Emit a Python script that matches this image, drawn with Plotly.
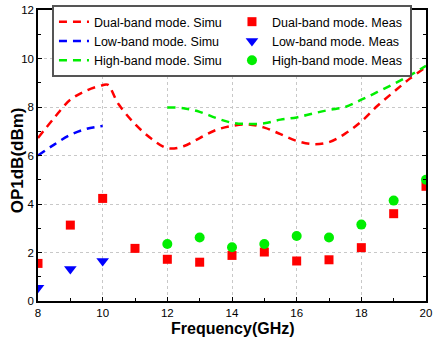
import plotly.graph_objects as go

# Simulated curves
dual_sim_x = [8, 8.5, 9, 9.5, 10, 10.15, 10.5, 11, 11.5, 12, 12.5, 13, 13.5, 14, 14.5, 15, 15.5, 16, 16.5, 17, 17.5, 18, 18.5, 19, 19.5, 20]
dual_sim_y = [6.72, 7.55, 8.3, 8.68, 8.9, 8.92, 8.1, 7.3, 6.7, 6.3, 6.38, 6.72, 7.05, 7.22, 7.28, 7.15, 6.88, 6.6, 6.47, 6.55, 6.9, 7.4, 8.05, 8.62, 9.17, 9.65]

low_sim_x = [8, 8.5, 9, 9.5, 10]
low_sim_y = [6.0, 6.45, 6.85, 7.1, 7.22]

high_sim_x = [12, 12.5, 13, 13.5, 14, 14.5, 15, 15.5, 16, 16.5, 17, 17.5, 18, 18.5, 19, 19.5, 20]
high_sim_y = [7.98, 7.95, 7.8, 7.55, 7.35, 7.3, 7.33, 7.48, 7.57, 7.73, 7.88, 8.0, 8.3, 8.62, 8.95, 9.3, 9.7]

# Measured points
dual_meas_x = [8, 9, 10, 11, 12, 13, 14, 15, 16, 17, 18, 19, 20]
dual_meas_y = [1.55, 3.13, 4.23, 2.17, 1.72, 1.6, 1.88, 2.02, 1.65, 1.7, 2.2, 3.6, 4.73]

low_meas_x = [8, 9, 10]
low_meas_y = [0.55, 1.32, 1.65]

high_meas_x = [12, 13, 14, 15, 16, 17, 18, 19, 20]
high_meas_y = [2.35, 2.62, 2.22, 2.35, 2.68, 2.62, 3.15, 4.14, 5.0]

x_title = "Frequency(GHz)"
y_title = "OP1dB(dBm)"

RED = "#ff0000"
BLUE = "#0000ff"
GREEN = "#00ee00"
dash = "8px,6px"

fig = go.Figure()
fig.add_trace(go.Scatter(x=dual_sim_x, y=dual_sim_y, mode="lines", name="Dual-band mode. Simu",
                         line=dict(color=RED, width=2.5, dash=dash, shape="spline")))
fig.add_trace(go.Scatter(x=dual_meas_x, y=dual_meas_y, mode="markers", name="Dual-band mode. Meas",
                         marker=dict(color=RED, symbol="square", size=9)))
fig.add_trace(go.Scatter(x=low_sim_x, y=low_sim_y, mode="lines", name="Low-band mode. Simu",
                         line=dict(color=BLUE, width=2.5, dash=dash, shape="spline")))
fig.add_trace(go.Scatter(x=low_meas_x, y=low_meas_y, mode="markers", name="Low-band mode. Meas",
                         marker=dict(color=BLUE, symbol="triangle-down", size=11)))
fig.add_trace(go.Scatter(x=high_sim_x, y=high_sim_y, mode="lines", name="High-band mode. Simu",
                         line=dict(color=GREEN, width=2.5, dash=dash, shape="spline")))
fig.add_trace(go.Scatter(x=high_meas_x, y=high_meas_y, mode="markers", name="High-band mode. Meas",
                         marker=dict(color=GREEN, symbol="circle", size=10)))

axis_common = dict(
    showline=True, linecolor="black", linewidth=1.5, mirror="ticks",
    ticks="inside", ticklen=4, tickcolor="black",
    showgrid=True, gridcolor="#c8c8c8", griddash="dot", gridwidth=1,
    zeroline=False, tickfont=dict(size=11.5, color="black"),
    ticklabeloverflow="allow",
)

fig.update_xaxes(range=[8, 20], dtick=2, tick0=8,
                 minor=dict(dtick=1, ticks="inside", ticklen=3, tickcolor="black", showgrid=False),
                 **axis_common)
fig.update_yaxes(range=[0, 12], dtick=2, tick0=0,
                 minor=dict(dtick=1, ticks="inside", ticklen=3, tickcolor="black", showgrid=False),
                 **axis_common)

fig.add_annotation(text="<b>" + x_title + "</b>", xref="paper", yref="paper",
                   x=0.503, y=-0.096, xanchor="center", yanchor="middle", showarrow=False,
                   font=dict(size=16, color="black"))
fig.add_annotation(text="<b>" + y_title + "</b>", xref="paper", yref="paper",
                   x=-0.053, y=0.485, xanchor="center", yanchor="middle", showarrow=False,
                   textangle=-90, font=dict(size=17, color="black"))

fig.update_layout(
    width=435, height=339,
    margin=dict(l=38, r=3, t=10, b=38),
    plot_bgcolor="white", paper_bgcolor="white",
    font=dict(family="Arial, Liberation Sans, sans-serif", color="black"),
    legend=dict(orientation="h", x=0.036, y=1.017, xanchor="left", yanchor="top",
                entrywidth=133, bgcolor="white", bordercolor="#555555", borderwidth=2,
                font=dict(size=12.5), tracegroupgap=0, itemwidth=30),
)

fig.write_html("out.html")
